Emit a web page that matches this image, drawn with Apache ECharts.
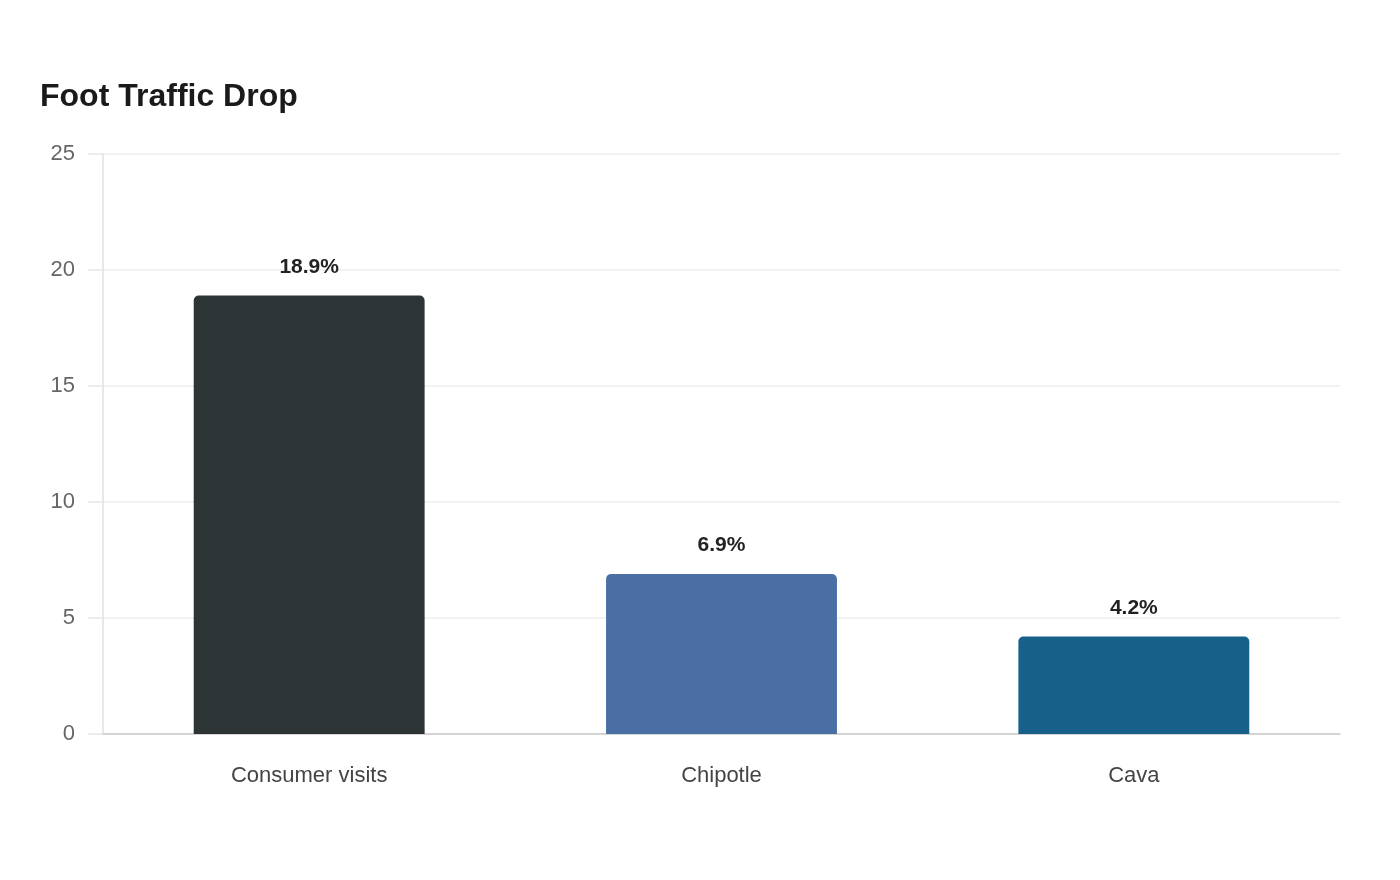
<!DOCTYPE html>
<html>
<head>
<meta charset="utf-8">
<script src="https://cdn.jsdelivr.net/npm/echarts@6/dist/echarts.min.js"></script>
<style>
  html, body { margin: 0; padding: 0; background: #fff; }
  #chart { width: 1400px; height: 880px; }
</style>
</head>
<body>
<div id="chart"></div>
<script>
// 数据
const categories = ["Consumer visits", "Chipotle", "Cava"];
const dropValues = [18.9, 6.9, 4.2];
const barColors = ["#2d3436", "#4a6fa5", "#17608a"];

const chart = echarts.init(document.getElementById("chart"));

const option = {
  backgroundColor: "#ffffff",
  title: {
    text: "Foot Traffic Drop",
    left: 35,
    top: 76,
    textStyle: {
      fontFamily: "Liberation Sans",
      fontSize: 32,
      fontWeight: "bold",
      color: "#1a1a1a",
    },
  },
  grid: {
    left: 103,
    right: 60,
    top: 154,
    bottom: 146,
  },
  xAxis: {
    type: "category",
    data: categories,
    axisLine: { lineStyle: { color: "#cccccc", width: 1.5 } },
    axisTick: { show: false },
    axisLabel: {
      margin: 31,
      fontFamily: "Liberation Sans",
      fontSize: 22,
      color: "#444444",
    },
  },
  yAxis: {
    type: "value",
    min: 0,
    max: 25,
    interval: 5,
    axisLine: { show: true, lineStyle: { color: "#e0e0e0", width: 1.5 } },
    axisTick: { show: true, length: 15, lineStyle: { color: "#e6e6e6", width: 1.5 } },
    splitLine: { lineStyle: { color: "#eeeeee", width: 1.5 } },
    axisLabel: {
      margin: 28,
      fontFamily: "Liberation Sans",
      fontSize: 22,
      color: "#666666",
    },
  },
  series: [
    {
      name: "Foot Traffic Drop",
      type: "bar",
      barWidth: "56%",
      data: dropValues.map((v, i) => ({
        value: v,
        itemStyle: { color: barColors[i], borderRadius: [5, 5, 0, 0] },
      })),
      label: {
        show: true,
        position: "top",
        distance: 18,
        formatter: (p) => p.value + "%",
        fontFamily: "Liberation Sans",
        fontSize: 21,
        fontWeight: "bold",
        color: "#222222",
      },
    },
  ],
};

chart.setOption(option);
</script>
</body>
</html>
